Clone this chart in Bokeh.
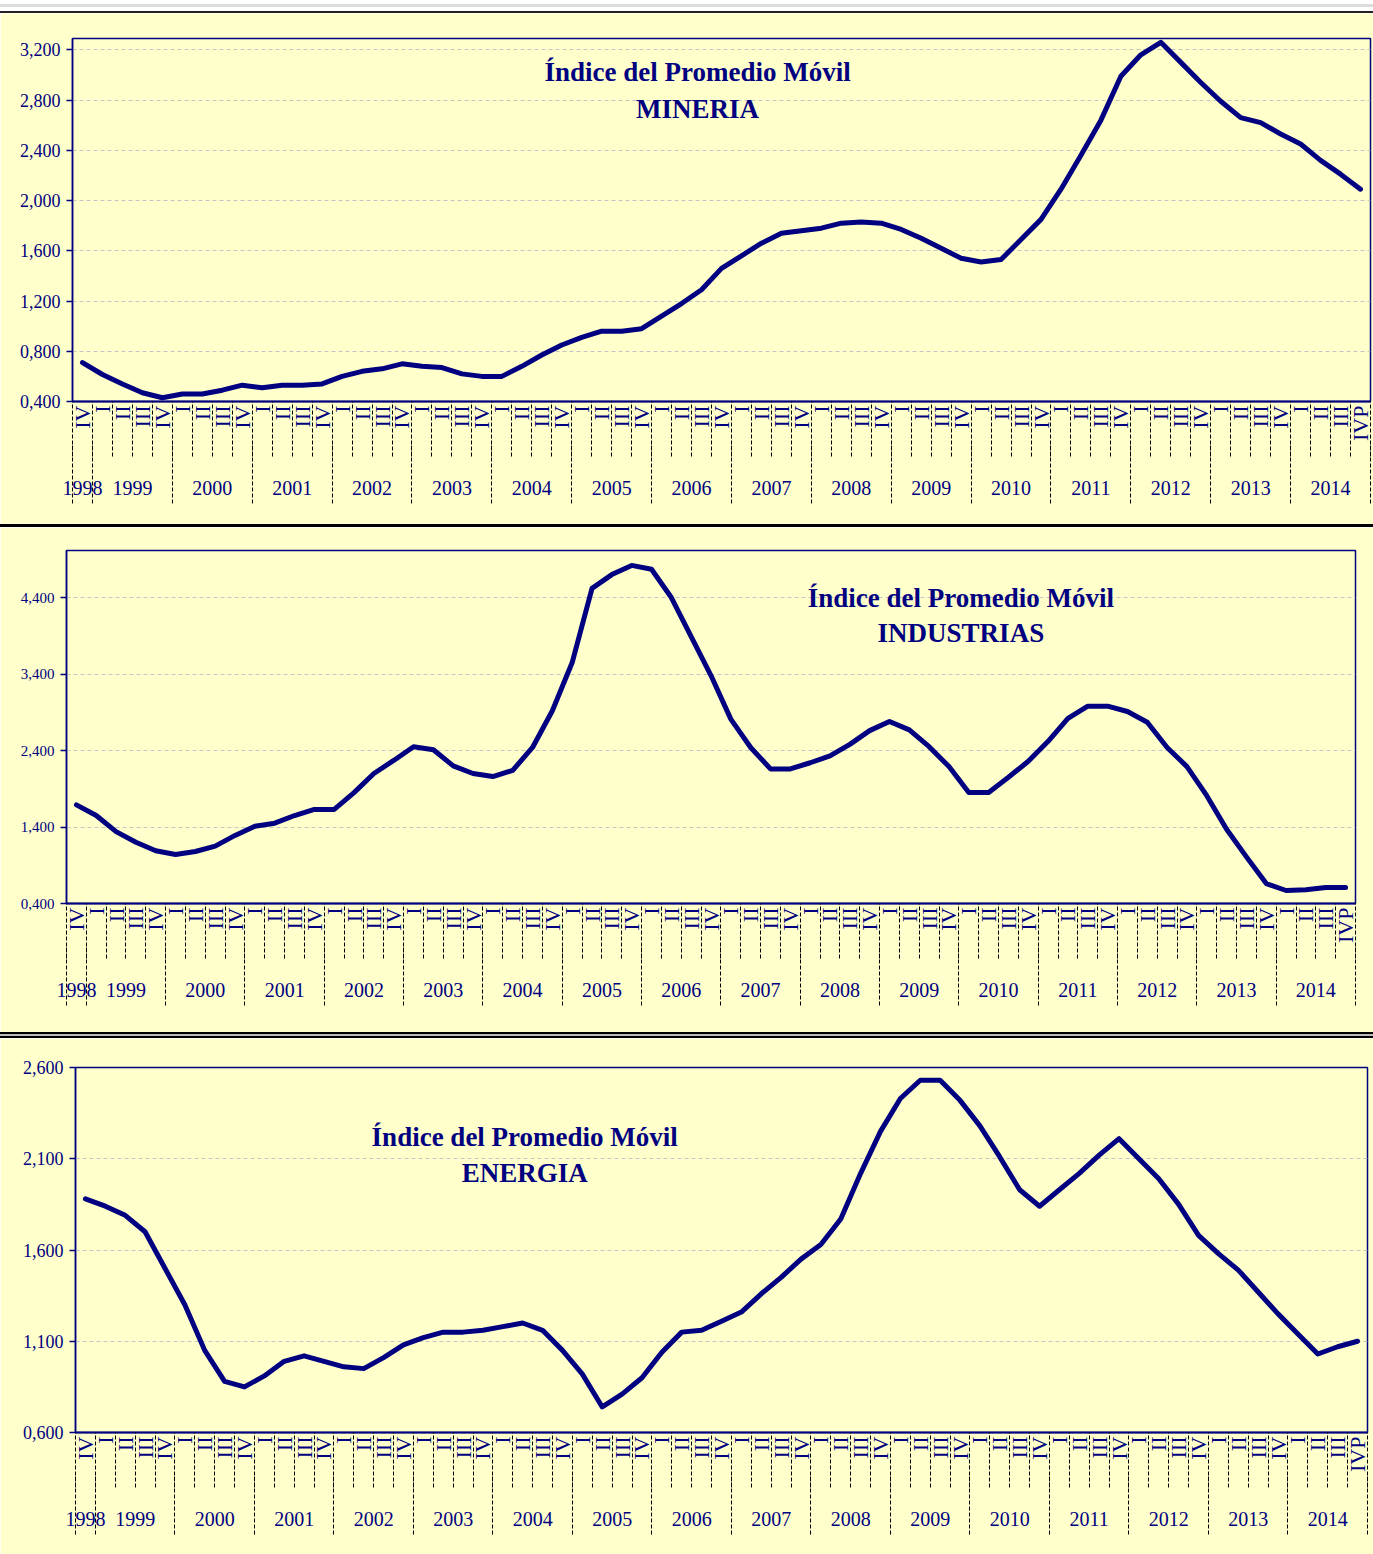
import math
from bokeh.plotting import figure
from bokeh.models import FixedTicker, LinearAxis, Range1d, Label, Spacer
from bokeh.layouts import column, row
from bokeh.embed import file_html
from bokeh.resources import INLINE

# ---------------- data ----------------
quarter_labels = (["IV"] + ["I", "II", "III", "IV"] * 15 + ["I", "II", "III", "IVP"])
year_labels = ["1998", "1999", "2000", "2001", "2002", "2003", "2004", "2005", "2006",
               "2007", "2008", "2009", "2010", "2011", "2012", "2013", "2014"]

# index values, in thousandths (e.g. 710 -> 0,710)
mineria = [710, 615, 540, 470, 430,
           460, 460, 490, 530,
           510, 530, 530, 540,
           600, 640, 660, 700,
           680, 670, 620, 600,
           600, 680, 770, 850,
           910, 960, 960, 980,
           1080, 1180, 1290, 1460,
           1560, 1660, 1740, 1760,
           1780, 1820, 1830, 1820,
           1770, 1700, 1620, 1540,
           1510, 1530, 1690, 1850,
           2090, 2360, 2640, 2990,
           3160, 3260, 3100, 2940,
           2790, 2660, 2620, 2530,
           2450, 2320, 2210, 2090]

industrias = [1690, 1550, 1340, 1200, 1090,
              1040, 1080, 1150, 1290,
              1410, 1450, 1550, 1630,
              1630, 1850, 2100, 2270,
              2450, 2410, 2200, 2100,
              2060, 2140, 2440, 2920,
              3550, 4520, 4700, 4820,
              4770, 4400, 3890, 3380,
              2810, 2440, 2160, 2160,
              2240, 2330, 2480, 2660,
              2780, 2670, 2450, 2190,
              1850, 1850, 2050, 2260,
              2520, 2820, 2980, 2980,
              2910, 2770, 2440, 2190,
              1810, 1370, 1010, 660,
              570, 580, 610, 610]

energia = [1880, 1840, 1790, 1700, 1500,
           1300, 1050, 880, 850,
           910, 990, 1020, 990,
           960, 950, 1010, 1080,
           1120, 1150, 1150, 1160,
           1180, 1200, 1160, 1050,
           920, 740, 810, 900,
           1040, 1150, 1160, 1210,
           1260, 1360, 1450, 1550,
           1630, 1770, 2020, 2250,
           2430, 2530, 2530, 2420,
           2280, 2110, 1930, 1840,
           1930, 2020, 2120, 2210,
           2100, 1990, 1850, 1680,
           1580, 1490, 1370, 1250,
           1140, 1030, 1070, 1100]

mineria_yticks = [400, 800, 1200, 1600, 2000, 2400, 2800, 3200]
mineria_ylabels = ["0,400", "0,800", "1,200", "1,600", "2,000", "2,400", "2,800", "3,200"]
industrias_yticks = [400, 1400, 2400, 3400, 4400]
industrias_ylabels = ["0,400", "1,400", "2,400", "3,400", "4,400"]
energia_yticks = [600, 1100, 1600, 2100, 2600]
energia_ylabels = ["0,600", "1,100", "1,600", "2,100", "2,600"]

TITLE_1 = "Índice del Promedio Móvil"

NAVY = "#000080"
BG = "#FFFFCC"
FONT = "Liberation Serif"
W = 1373

Q_TICK = 55     # length of quarter separators
Y_TICK = 60     # length of year separators (below the quarter axis)


def make_panel(values, y_lo, y_hi, yticks, ylabels, yfont, name, tx, ty1, ty2,
               height, b_left, b_right, b_top, b_bottom):
    n = len(values)
    # doubled integer scale: point i at 2*i, quarter boundaries at odd integers
    xs = [2 * i for i in range(n)]
    bounds = [2 * i - 1 for i in range(n + 1)]
    # year groups: first group is the single 1998 quarter, then groups of 4
    year_pos = [0] + [2 * (1 + 4 * k) + 3 for k in range(len(year_labels) - 1)]
    year_bounds = [-1, 1] + [2 * (4 + 4 * k) + 1 for k in range(len(year_labels) - 1)]

    p = figure(width=W, height=height, output_backend="svg", toolbar_location=None,
               x_range=Range1d(-1, 2 * n - 1), y_range=Range1d(y_lo, y_hi),
               x_axis_type=None)
    p.min_border_left = b_left
    p.min_border_right = b_right
    p.min_border_top = b_top
    p.min_border_bottom = b_bottom
    p.background_fill_color = BG
    p.border_fill_color = BG
    p.outline_line_color = NAVY
    p.outline_line_width = 1.5

    ya = p.yaxis[0]
    ya.ticker = FixedTicker(ticks=yticks)
    ya.major_label_overrides = {t: l for t, l in zip(yticks, ylabels)}
    ya.major_label_text_font = FONT
    ya.major_label_text_font_size = yfont
    ya.major_label_text_color = NAVY
    ya.axis_line_color = NAVY
    ya.axis_line_width = 1.5
    ya.major_tick_line_color = NAVY
    ya.major_tick_line_width = 1.5
    ya.major_tick_out = 6
    ya.major_tick_in = 0
    ya.minor_tick_line_color = None
    ya.major_label_standoff = 6

    p.ygrid.grid_line_color = "#C4C4C4"
    p.ygrid.grid_line_dash = "4 3"
    p.ygrid.grid_line_width = 1

    qa = LinearAxis(ticker=FixedTicker(ticks=xs, minor_ticks=bounds),
                    major_label_overrides={x: q for x, q in zip(xs, quarter_labels)})
    qa.major_label_orientation = math.pi / 2
    qa.major_label_text_font = FONT
    qa.major_label_text_font_size = "22px"
    qa.major_label_text_color = NAVY
    qa.major_label_standoff = 4 - Q_TICK
    qa.axis_line_color = NAVY
    qa.axis_line_width = 2
    qa.major_tick_out = 0
    qa.major_tick_in = 0
    qa.major_tick_line_color = None
    qa.minor_tick_out = Q_TICK
    qa.minor_tick_in = 0
    qa.minor_tick_line_color = "black"
    qa.minor_tick_line_dash = "4 2"
    qa.minor_tick_line_width = 1
    p.add_layout(qa, "below")

    ya2 = LinearAxis(ticker=FixedTicker(ticks=year_pos, minor_ticks=year_bounds),
                     major_label_overrides={x: y for x, y in zip(year_pos, year_labels)})
    ya2.major_label_text_font = FONT
    ya2.major_label_text_font_size = "20px"
    ya2.major_label_text_color = NAVY
    ya2.major_label_standoff = 37 - Y_TICK
    ya2.axis_line_color = None
    ya2.major_tick_out = 0
    ya2.major_tick_in = 0
    ya2.major_tick_line_color = None
    ya2.minor_tick_out = Y_TICK
    ya2.minor_tick_in = 0
    ya2.minor_tick_line_color = "black"
    ya2.minor_tick_line_dash = "4 2"
    ya2.minor_tick_line_width = 1
    p.add_layout(ya2, "below")

    p.line(xs, values, line_color=NAVY, line_width=5, line_join="round", line_cap="round")

    for text, ty in ((TITLE_1, ty1), (name, ty2)):
        p.add_layout(Label(x=tx, y=ty, text=text, text_font=FONT, text_font_style="bold",
                           text_font_size="27px", text_color=NAVY, text_align="center",
                           text_baseline="middle"))
    return p


p1 = make_panel(mineria, 400, 3290, mineria_yticks, mineria_ylabels, "18px", "MINERIA",
                61.6, 3020, 2730, 511, 72, 3, 25, 123)
p2 = make_panel(industrias, 400, 5015, industrias_yticks, industrias_ylabels, "15px", "INDUSTRIAS",
                89.2, 4400, 3930, 505, 66, 18, 23, 129)
p3 = make_panel(energia, 600, 2600, energia_yticks, energia_ylabels, "18px", "ENERGIA",
                44.2, 2220, 2020, 516, 75, 6, 29, 122)

top_gap = Spacer(width=W, height=11,
                 styles={"background": "linear-gradient(#fff 0 4px, #ddd 4px 7px, #fff 7px 11px)"})
top_line = Spacer(width=W, height=2, styles={"background-color": "#222"})
sep1 = Spacer(width=W, height=3, styles={"background-color": "black"})
sep2 = Spacer(width=W, height=6,
              styles={"background": "linear-gradient(#000 0 2px, #bbb 2px 4px, #000 4px 6px)"})

# each plot wrapped in its own row so the column does not align their frames
layout = column(top_gap, top_line, row(p1), sep1, row(p2), sep2, row(p3), spacing=0)

open("out.html", "w").write(file_html(layout, INLINE))
